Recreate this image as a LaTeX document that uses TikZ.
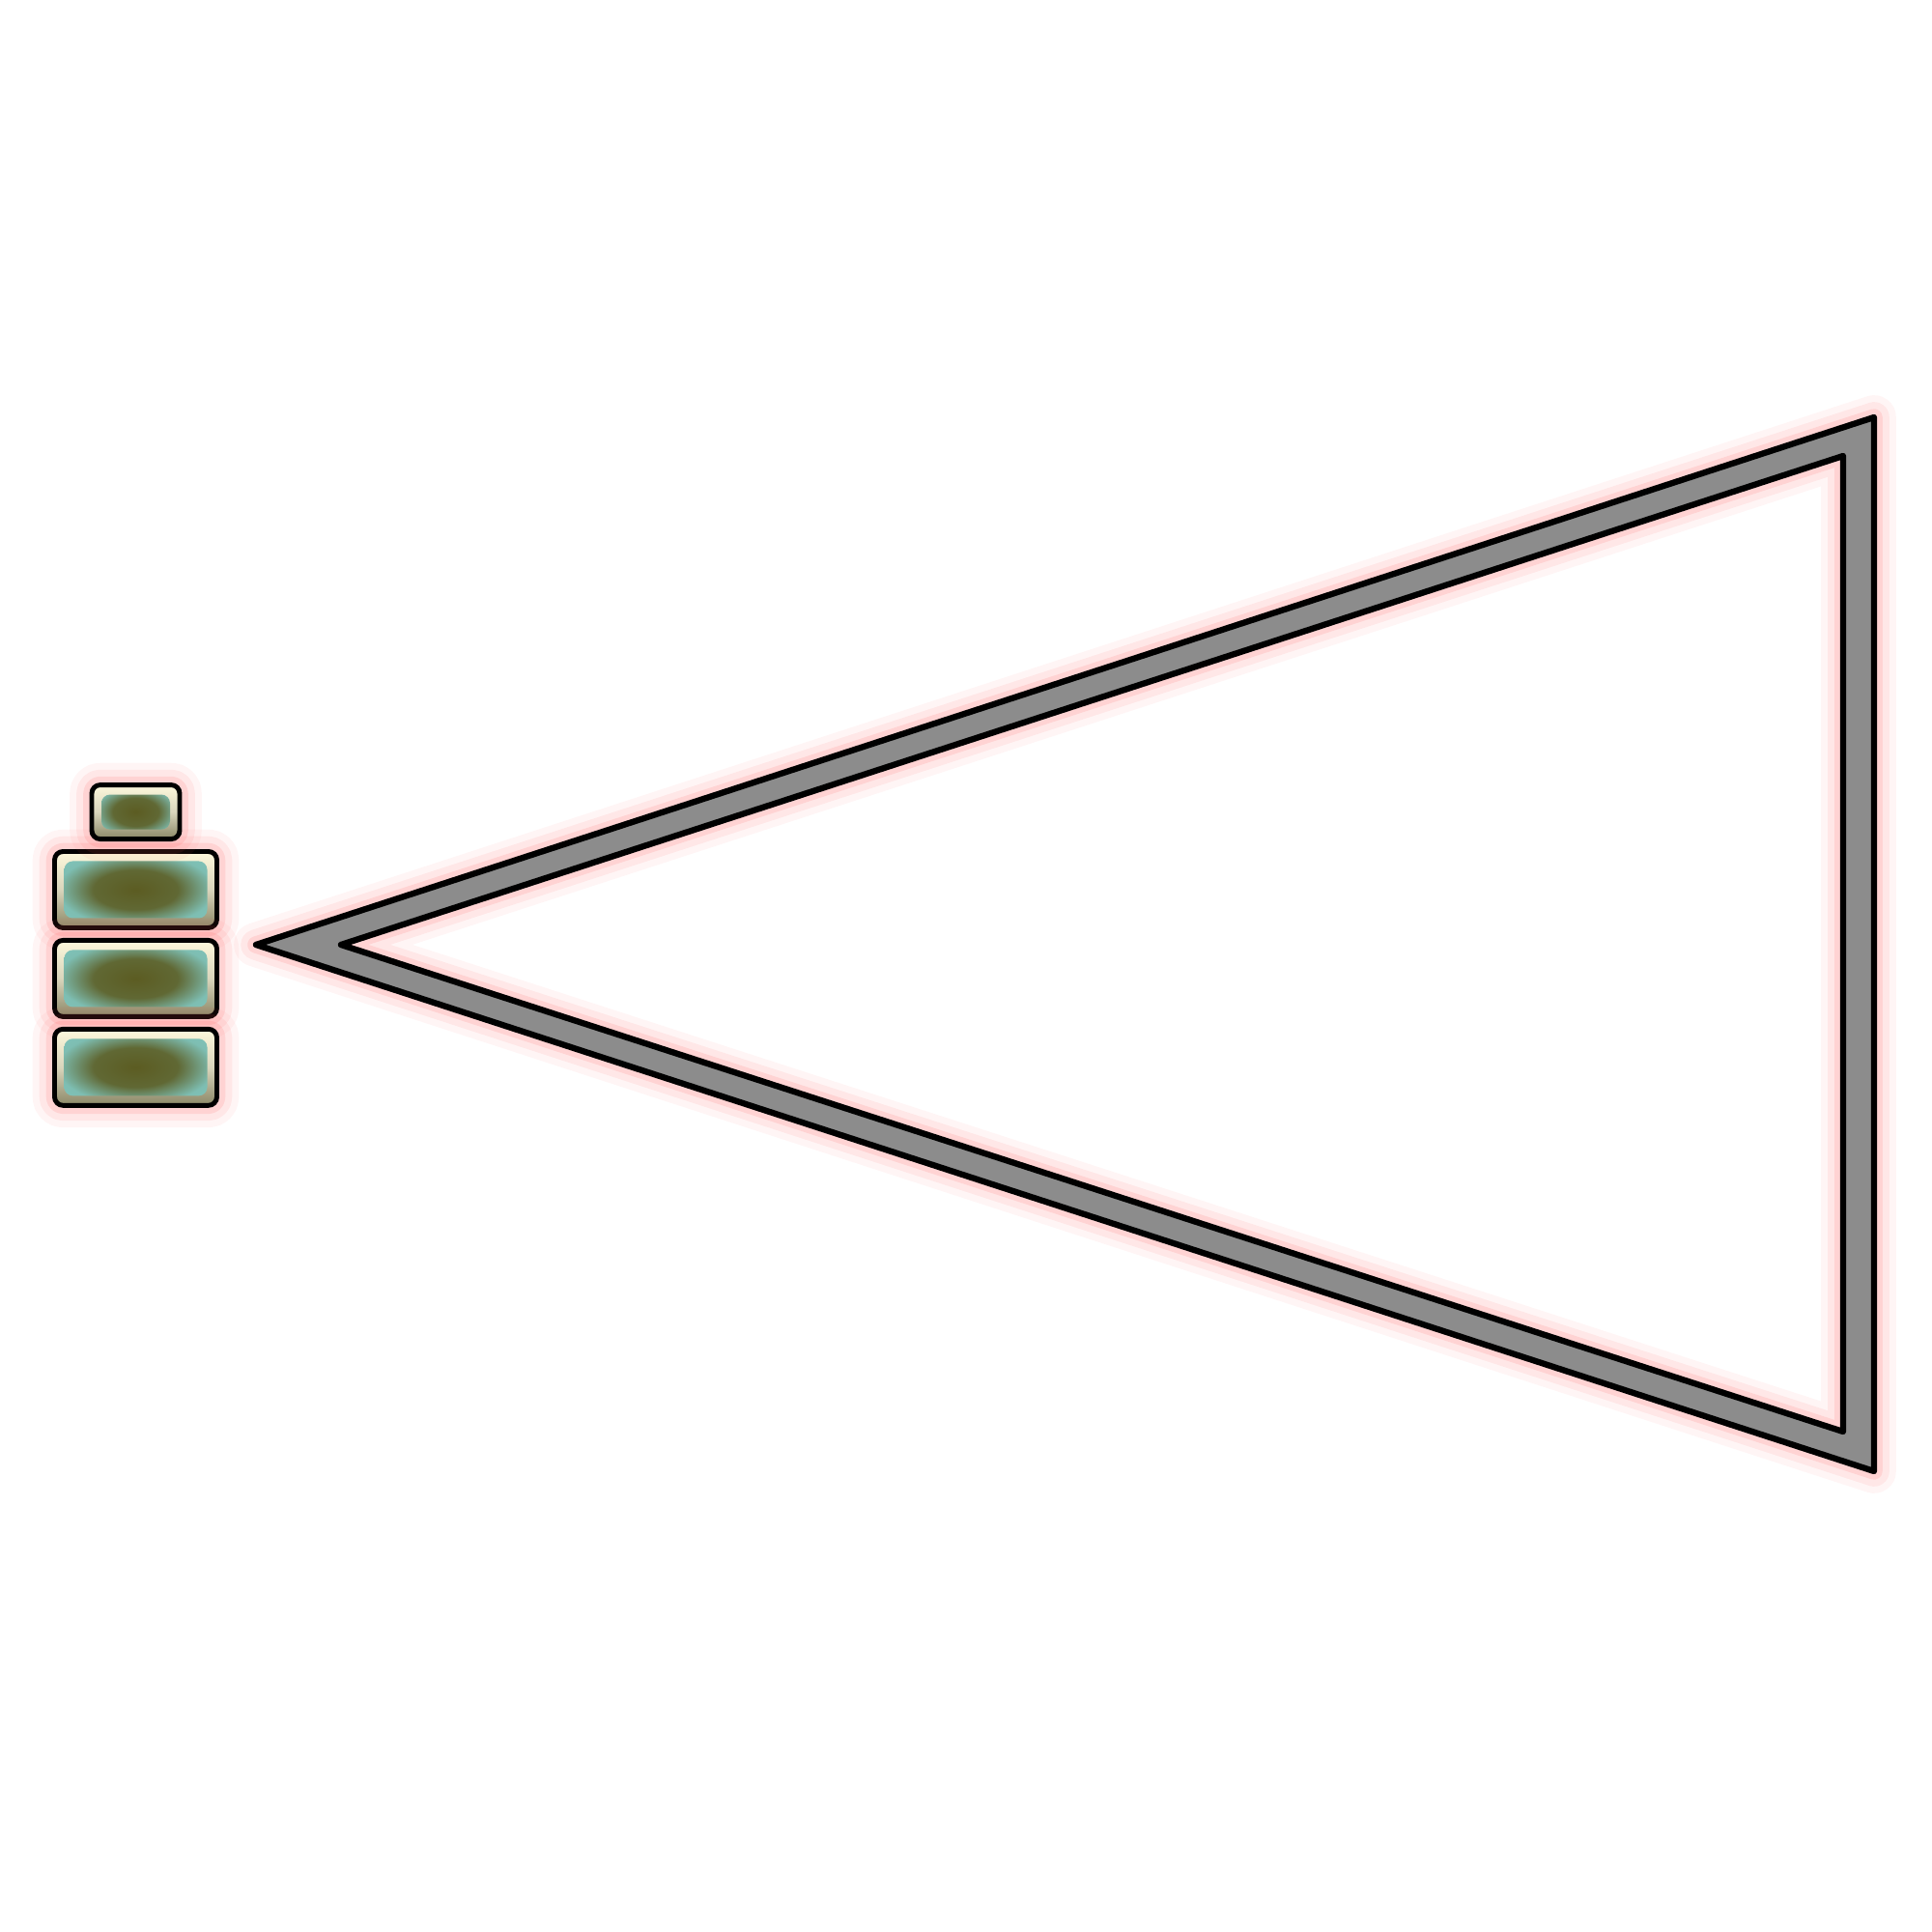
\documentclass[tikz,border=0pt]{standalone}
\usepackage{xcolor}
\usepackage{tikz}
\usetikzlibrary{positioning}
\definecolor{glowred}{HTML}{FF5A5A}
\definecolor{framegray}{HTML}{8C8C8C}
\definecolor{cellcream}{HTML}{FDF8DC}
\definecolor{cellmid}{HTML}{D9D5BC}
\definecolor{cellbase}{HTML}{8A8766}
\definecolor{cellteal}{HTML}{86D6D6}
\definecolor{cellolive}{HTML}{5C5C22}
\pgfdeclareradialshading{cellglass}{\pgfpoint{0bp}{0bp}}{%
  color(0bp)=(cellolive); color(13bp)=(cellolive!90!cellteal); color(24bp)=(cellteal!80!cellolive); color(50bp)=(cellteal)}
\tikzset{
  glow/.style={preaction={draw=glowred, line width=13pt, opacity=0.06, line join=round},
               preaction={draw=glowred, line width=9pt, opacity=0.09, line join=round},
               preaction={draw=glowred, line width=5pt, opacity=0.14, line join=round}},
  framepath/.style={glow, draw=black, fill=framegray, line width=1.8pt, line join=round, even odd rule},
  cellbox/.style={glow, draw=black, line width=1.4pt, rounded corners=2.5pt, inner sep=0pt,
                  top color=cellcream, bottom color=cellbase, middle color=cellmid,
                  path picture={
                    \shade[shading=cellglass]
                      ([xshift=0.1cm,yshift=0.1cm]path picture bounding box.south west) rectangle
                      ([xshift=-0.1cm,yshift=-0.1cm]path picture bounding box.north east);
                  }},
  bigcell/.style={cellbox, minimum width=1.68cm, minimum height=0.79cm},
  smallcell/.style={cellbox, minimum width=0.91cm, minimum height=0.56cm}
}
\begin{document}
\begin{tikzpicture}
  \useasboundingbox (0,0) rectangle (20,20);
  \coordinate (tip) at (2.65,10.22);
  \coordinate (top) at (19.40,15.68);
  \coordinate (bot) at (19.40,4.77);
  \coordinate (itip) at (3.53,10.22);
  \coordinate (itop) at (19.08,15.28);
  \coordinate (ibot) at (19.08,5.18);
  \draw[framepath] (tip) -- (top) -- (bot) -- cycle (itip) -- (itop) -- (ibot) -- cycle;
  \node[bigcell] (cellA) at (1.405,10.79) {};
  \node[bigcell, below=0.08cm of cellA] (cellB) {};
  \node[bigcell, below=0.08cm of cellB] (cellC) {};
  \node[smallcell, above=0.08cm of cellA] (cap) {};
\end{tikzpicture}
\end{document}
